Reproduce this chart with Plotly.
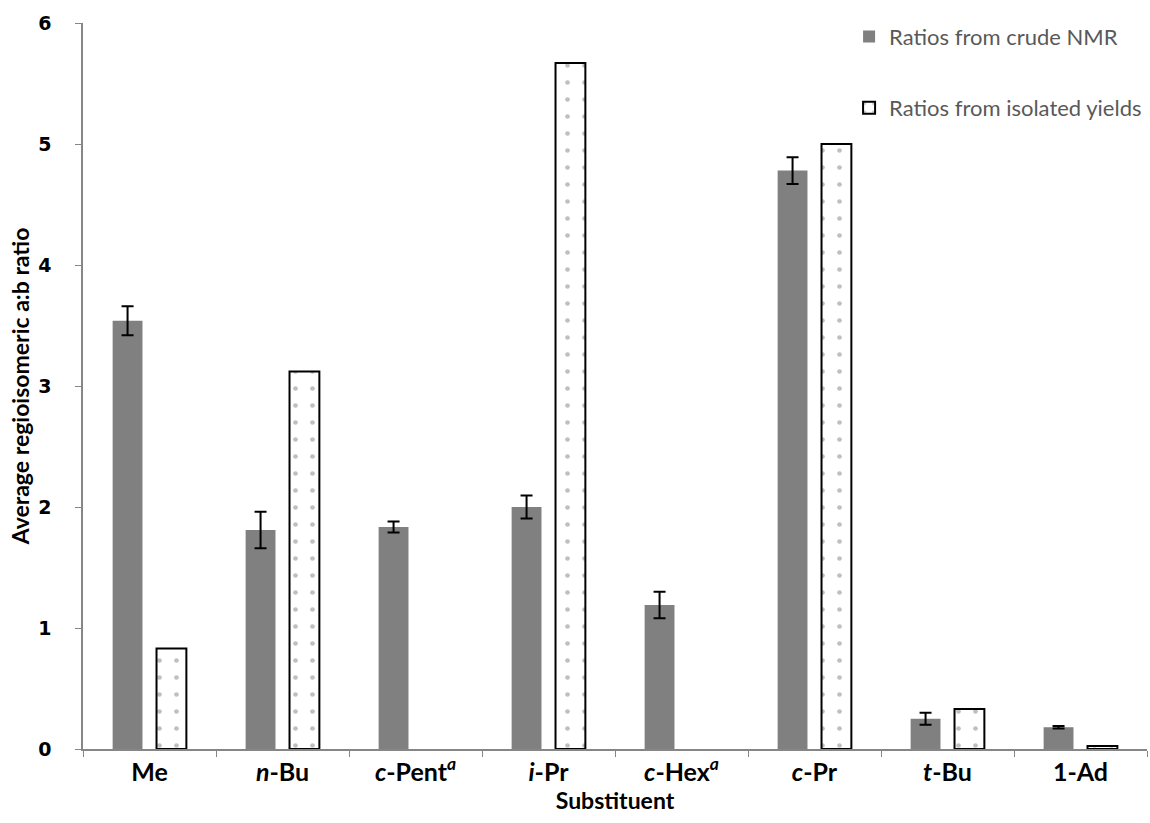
import plotly.graph_objects as go

categories = ["Me", "<i>n</i>-Bu", "<i>c</i>-Pent<sup><i>a</i></sup>", "<i>i</i>-Pr",
              "<i>c</i>-Hex<sup><i>a</i></sup>", "<i>c</i>-Pr", "<i>t</i>-Bu", "1-Ad"]
crude_nmr = [3.54, 1.81, 1.835, 2.00, 1.19, 4.78, 0.25, 0.18]
crude_err = [0.12, 0.15, 0.045, 0.095, 0.11, 0.11, 0.05, 0.01]
isolated = [0.83, 3.12, None, 5.67, None, 5.00, 0.33, 0.025]

FONT = "Lato"

fig = go.Figure()
fig.add_trace(go.Bar(
    x=categories, y=crude_nmr, name="Ratios from crude NMR",
    marker=dict(color="#808080", line=dict(width=0)),
    error_y=dict(type="data", array=crude_err, visible=True,
                 color="black", thickness=2, width=6),
    legend="legend",
))
fig.add_trace(go.Bar(
    x=categories, y=isolated, name="Ratios from isolated yields",
    marker=dict(color="white", line=dict(color="black", width=2),
                pattern=dict(shape=".", fgcolor="#808080", bgcolor="white",
                             size=17, solidity=0.06)),
    legend="legend2",
))

legend_font = dict(size=22, color="#595959", family=FONT)

fig.update_layout(
    width=1150, height=823,
    margin=dict(l=83, r=3, t=23, b=74),
    plot_bgcolor="white", paper_bgcolor="white",
    barmode="group", bargap=0.34, bargroupgap=0.32,
    font=dict(family=FONT, color="black"),
    showlegend=True,
    legend=dict(x=0.72, y=0.981, xanchor="left", yanchor="middle",
                font=legend_font, bgcolor="rgba(0,0,0,0)"),
    legend2=dict(x=0.72, y=0.883, xanchor="left", yanchor="middle",
                 font=legend_font, bgcolor="rgba(0,0,0,0)"),
    xaxis=dict(
        showline=True, linecolor="#868686", linewidth=1.5,
        ticks="outside", tickson="boundaries", ticklen=6, tickcolor="#868686",
        tickfont=dict(size=25, family=FONT, color="black", weight="bold"),
        title=dict(text="<b>Substituent</b>", font=dict(size=23, family=FONT), standoff=4),
        showgrid=False,
    ),
    yaxis=dict(
        range=[0, 6], dtick=1, showline=True, linecolor="#868686", linewidth=1.5,
        ticks="outside", ticklen=6, tickcolor="#868686", ticklabelstandoff=20,
        tickfont=dict(size=19, family="DejaVu Sans", color="black", weight="bold"),
        title=dict(text="<b>Average regioisomeric a:b ratio</b>", font=dict(size=23, family=FONT), standoff=2),
        showgrid=False, zeroline=False,
    ),
)

fig.write_html("out.html")
